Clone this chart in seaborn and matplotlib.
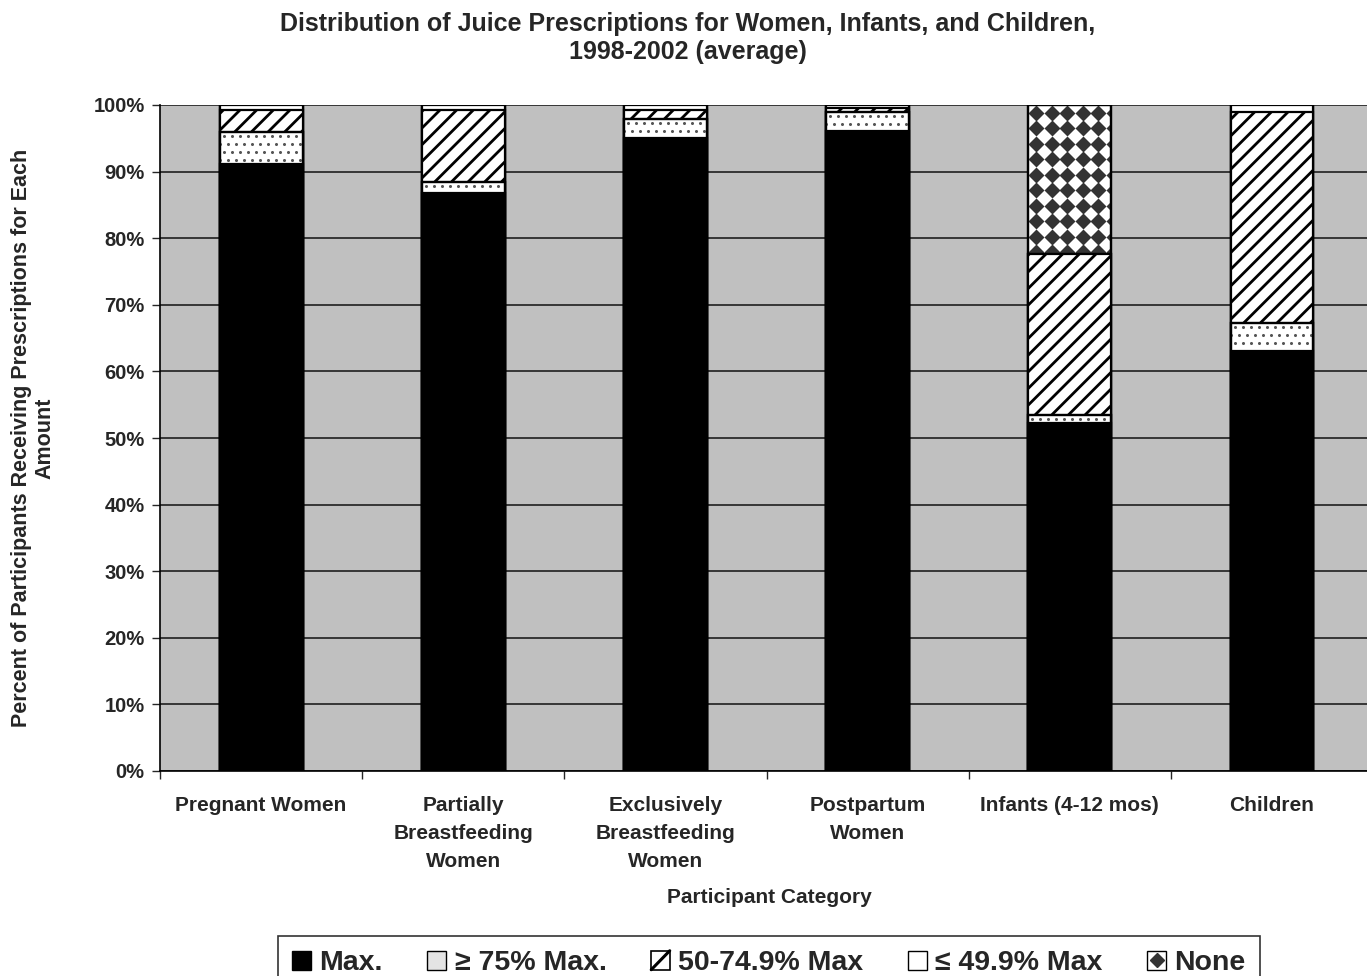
import numpy as np
import pandas as pd
import matplotlib
matplotlib.use("Agg")
import matplotlib.pyplot as plt
from matplotlib.patches import Patch, Rectangle
from matplotlib.lines import Line2D
from matplotlib.legend_handler import HandlerTuple, HandlerBase
from matplotlib.ticker import FixedLocator
import seaborn as sns

categories = ["Pregnant Women", "Partially\nBreastfeeding\nWomen",
              "Exclusively\nBreastfeeding\nWomen", "Postpartum\nWomen",
              "Infants (4-12 mos)", "Children"]
series_names = ["Max.", "\u2265 75% Max.", "50-74.9% Max", "\u2264 49.9% Max", "None"]
max_full = [91.2, 86.8, 95.0, 96.1, 52.2, 63.0]
ge75 = [4.8, 1.7, 2.9, 2.8, 1.3, 4.2]
mid50 = [3.2, 10.7, 1.3, 0.6, 24.2, 31.8]
le49 = [0.8, 0.8, 0.8, 0.5, 0.0, 1.0]
none_ = [0.0, 0.0, 0.0, 0.0, 22.3, 0.0]
y_ticks = [0, 10, 20, 30, 40, 50, 60, 70, 80, 90, 100]

sns.set_style("white")
plt.rcParams["font.family"] = ["Liberation Sans", "DejaVu Sans"]
plt.rcParams["font.weight"] = "bold"
plt.rcParams["hatch.linewidth"] = 2.0

layers = [max_full, ge75, mid50, le49, none_]
cum = np.cumsum(np.array(layers), axis=0)

FIG_W, FIG_H = 1367, 976
AX_L, AX_R, AX_T, AX_B = 160, 1367, 105, 771
XLIM = (-0.5, 5.47)
px_per_x = (AX_R - AX_L) / (XLIM[1] - XLIM[0])
px_per_y = (AX_B - AX_T) / 100.0

fig = plt.figure(figsize=(FIG_W / 100, FIG_H / 100), dpi=100)
ax = fig.add_axes([AX_L / FIG_W, 1 - AX_B / FIG_H, (AX_R - AX_L) / FIG_W,
                   (AX_B - AX_T) / FIG_H])
ax.set_facecolor("#C0C0C0")


def texture(patch, lo, hi, step_px, marker, ms, color, stagger, z):
    """Fill a bar segment with a regular grid of small markers."""
    if hi - lo <= 0:
        return
    dx = step_px / px_per_x
    dy = step_px / px_per_y
    x0 = patch.get_x()
    w = patch.get_width()
    xs_base = x0 + dx / 2 + np.arange(0, w / dx + 1) * dx
    ys = np.arange(hi - dy / 2, lo - dy, -dy)
    pts_x, pts_y = [], []
    for i, y in enumerate(ys):
        off = (dx / 2) if (stagger and i % 2) else 0.0
        pts_x.extend(xs_base - off)
        pts_y.extend([y] * len(xs_base))
    ln, = ax.plot(pts_x, pts_y, linestyle="none", marker=marker, ms=ms,
                  color=color, mec="none", zorder=z)
    ln.set_clip_path(patch)


styles = [
    dict(color="black", hatch=None),
    dict(color="white", hatch=None),
    dict(color="white", hatch="//"),
    dict(color="white", hatch=None),
    dict(color="white", hatch=None),
]

W = 0.41
z = 2
for k in range(len(layers) - 1, -1, -1):
    df = pd.DataFrame({"cat": categories, "val": cum[k]})
    before = len(ax.patches)
    st = styles[k]
    sns.barplot(data=df, x="cat", y="val", ax=ax, color=st["color"],
                saturation=1, width=W, edgecolor="black", linewidth=1.6,
                hatch=st["hatch"], errorbar=None)
    new = ax.patches[before:]
    for p in new:
        p.set_zorder(z)
        p.set_facecolor(st["color"])
    z += 1
    lo_vals = cum[k - 1] if k > 0 else np.zeros(len(categories))
    if k == 4:
        for p, lo, hi in zip(new, lo_vals, cum[k]):
            texture(p, lo, hi, 15.5, "D", 8.5, "#333333", False, z)
        z += 1
    if k == 1:
        for p, lo, hi in zip(new, lo_vals, cum[k]):
            texture(p, lo, hi, 8, "o", 2.2, "#555555", True, z)
        z += 1
    # redraw the outline above the texture
    if k in (4, 1):
        for p in new:
            r = Rectangle((p.get_x(), p.get_y()), p.get_width(), p.get_height(),
                          fill=False, edgecolor="black", linewidth=1.6, zorder=z)
            ax.add_patch(r)
        z += 1

ax.set_xlim(*XLIM)
ax.set_ylim(0, 100)
ax.yaxis.set_major_locator(FixedLocator(y_ticks))
ax.set_yticklabels([f"{t}%" for t in y_ticks], fontsize=14.5, fontweight="bold")
ax.yaxis.grid(True, color="#1e1e1e", linewidth=1.2)
ax.set_axisbelow(True)
ax.tick_params(axis="y", direction="out", length=6, width=1, left=True, pad=5)
ax.tick_params(axis="x", which="major", length=0, pad=18)
ax.xaxis.set_minor_locator(FixedLocator(np.arange(-0.5, 6, 1)))
ax.tick_params(axis="x", which="minor", direction="out", length=6, width=1, bottom=True)
for lbl in ax.get_xticklabels():
    lbl.set_fontsize(15)
    lbl.set_fontweight("bold")
    lbl.set_linespacing(1.6)

for s in ["top", "right"]:
    ax.spines[s].set_visible(False)
for s in ["left", "bottom"]:
    ax.spines[s].set_color("black")
    ax.spines[s].set_linewidth(1.2)

ax.set_xlabel("Participant Category", fontsize=15, fontweight="bold")
ax.xaxis.set_label_coords((769 - AX_L) / (AX_R - AX_L), -(888 - AX_B) / (AX_B - AX_T))
ax.set_ylabel("Percent of Participants Receiving Prescriptions for Each\nAmount",
              fontsize=15.5, fontweight="bold", linespacing=1.12)
ax.yaxis.set_label_coords(-(AX_L - 55) / (AX_R - AX_L), (AX_B - 438) / (AX_B - AX_T))

fig.text(688 / FIG_W, 1 - 12 / FIG_H,
         "Distribution of Juice Prescriptions for Women, Infants, and Children,\n1998-2002 (average)",
         ha="center", va="top", fontsize=18, fontweight="bold", linespacing=1.2)


class DiagonalBox:
    """Legend key: a white square crossed by a single diagonal stroke."""


class HandlerDiagonalBox(HandlerBase):
    def create_artists(self, legend, orig_handle, xdescent, ydescent,
                       width, height, fontsize, trans):
        box = Rectangle((-xdescent, -ydescent), width, height, facecolor="white",
                        edgecolor="black", linewidth=1.2, transform=trans)
        diag = Line2D([-xdescent, -xdescent + width], [-ydescent, -ydescent + height],
                      color="black", linewidth=2.2, transform=trans)
        return [box, diag]


handles = [
    Patch(facecolor="black", edgecolor="black"),
    Patch(facecolor="#e4e4e4", edgecolor="black"),
    DiagonalBox(),
    Patch(facecolor="white", edgecolor="black"),
    (Patch(facecolor="white", edgecolor="black"),
     Line2D([], [], linestyle="none", marker="D", ms=7, color="#333333")),
]
leg_h = 0.06
leg = fig.legend(handles, series_names, loc="upper left",
                 bbox_to_anchor=(278 / FIG_W, 1 - 936 / FIG_H - leg_h,
                                 (1260 - 278) / FIG_W, leg_h),
                 mode="expand", ncol=5,
                 frameon=True, fancybox=False, edgecolor="black",
                 prop={"family": ["Liberation Sans", "DejaVu Sans"],
                       "weight": "bold", "size": 20.5},
                 handler_map={tuple: HandlerTuple(ndivide=1, pad=0),
                              DiagonalBox: HandlerDiagonalBox()},
                 handlelength=0.65, handleheight=0.65, handletextpad=0.3,
                 borderpad=0.5, borderaxespad=0)
leg.get_frame().set_linewidth(1.2)

fig.savefig("out.png", dpi=100)
